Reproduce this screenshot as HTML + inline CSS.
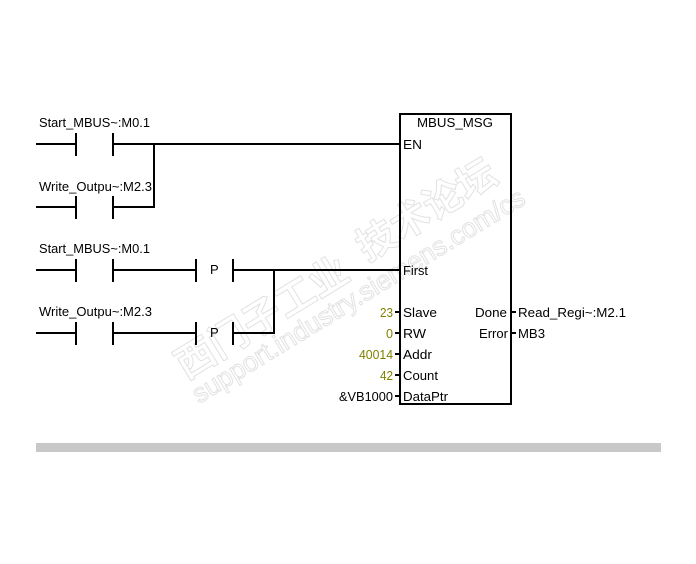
<!DOCTYPE html>
<html>
<head>
<meta charset="utf-8">
<style>
html,body{margin:0;padding:0;background:#fff;width:696px;height:564px;overflow:hidden}
svg{display:block}
text{font-family:"Liberation Sans",Arial,sans-serif;font-size:13px;fill:#000}
.o{fill:#808000}
.w{font-family:"Noto Sans CJK SC","Liberation Sans",sans-serif;font-weight:700;fill:#fff;stroke:#e2e2e2;stroke-width:1}
.s{font-family:"Liberation Sans",sans-serif;font-weight:400;fill:#fff;stroke:#e2e2e2;stroke-width:1}
</style>
</head>
<body>
<svg width="696" height="564" viewBox="0 0 696 564" xmlns="http://www.w3.org/2000/svg">
<rect width="696" height="564" fill="#fff"/>

<!-- watermark -->
<text class="w" transform="translate(186,380) rotate(-31.5)" style="font-size:39px">西门子工业</text>
<text class="w" transform="translate(367,262) rotate(-31.5)" style="font-size:39px">技术论坛</text>
<text class="s" transform="translate(199,404) rotate(-31.5)" style="font-size:27px" textLength="385" lengthAdjust="spacingAndGlyphs">support.industry.siemens.com/cs</text>

<!-- wires and contacts -->
<g fill="#000" shape-rendering="crispEdges">
  <!-- rung 1 -->
  <rect x="36" y="143" width="40" height="2"/>
  <rect x="75" y="133" width="2" height="23"/>
  <rect x="112" y="133" width="2" height="23"/>
  <rect x="113" y="143" width="287" height="2"/>
  <!-- rung 2 -->
  <rect x="36" y="206" width="40" height="2"/>
  <rect x="75" y="196" width="2" height="23"/>
  <rect x="112" y="196" width="2" height="23"/>
  <rect x="113" y="206" width="42" height="2"/>
  <rect x="153" y="143" width="2" height="65"/>
  <!-- rung 3 -->
  <rect x="36" y="269" width="40" height="2"/>
  <rect x="75" y="259" width="2" height="23"/>
  <rect x="112" y="259" width="2" height="23"/>
  <rect x="113" y="269" width="83" height="2"/>
  <rect x="195" y="259" width="2" height="23"/>
  <rect x="232" y="259" width="2" height="23"/>
  <rect x="233" y="269" width="167" height="2"/>
  <!-- rung 4 -->
  <rect x="36" y="332" width="40" height="2"/>
  <rect x="75" y="322" width="2" height="23"/>
  <rect x="112" y="322" width="2" height="23"/>
  <rect x="113" y="332" width="83" height="2"/>
  <rect x="195" y="322" width="2" height="23"/>
  <rect x="232" y="322" width="2" height="23"/>
  <rect x="233" y="332" width="42" height="2"/>
  <rect x="273" y="269" width="2" height="65"/>
  <!-- box -->
  <rect x="399" y="113" width="113" height="2"/>
  <rect x="399" y="403" width="113" height="2"/>
  <rect x="399" y="113" width="2" height="292"/>
  <rect x="510" y="113" width="2" height="292"/>
  <!-- stubs -->
  <rect x="395" y="311" width="5" height="2"/>
  <rect x="395" y="332" width="5" height="2"/>
  <rect x="395" y="353" width="5" height="2"/>
  <rect x="395" y="374" width="5" height="2"/>
  <rect x="395" y="395" width="5" height="2"/>
  <rect x="511" y="311" width="5" height="2"/>
  <rect x="511" y="332" width="5" height="2"/>
</g>

<!-- gray bar -->
<rect x="36" y="443" width="625" height="9" fill="#c8c8c8" shape-rendering="crispEdges"/>

<!-- labels -->
<text x="39" y="127" textLength="111" lengthAdjust="spacingAndGlyphs">Start_MBUS~:M0.1</text>
<text x="39" y="191" textLength="113" lengthAdjust="spacingAndGlyphs">Write_Outpu~:M2.3</text>
<text x="39" y="253" textLength="111" lengthAdjust="spacingAndGlyphs">Start_MBUS~:M0.1</text>
<text x="39" y="316" textLength="113" lengthAdjust="spacingAndGlyphs">Write_Outpu~:M2.3</text>
<text x="210" y="274">P</text>
<text x="210" y="337">P</text>

<text x="417" y="127" textLength="76" lengthAdjust="spacingAndGlyphs">MBUS_MSG</text>
<text x="403" y="149" textLength="19" lengthAdjust="spacingAndGlyphs">EN</text>
<text x="403" y="275" textLength="25" lengthAdjust="spacingAndGlyphs">First</text>
<text x="403" y="317" textLength="34" lengthAdjust="spacingAndGlyphs">Slave</text>
<text x="403" y="338" textLength="23" lengthAdjust="spacingAndGlyphs">RW</text>
<text x="403" y="359" textLength="29" lengthAdjust="spacingAndGlyphs">Addr</text>
<text x="403" y="380" textLength="35" lengthAdjust="spacingAndGlyphs">Count</text>
<text x="403" y="401" textLength="45" lengthAdjust="spacingAndGlyphs">DataPtr</text>

<text class="o" x="380" y="317" textLength="13" lengthAdjust="spacingAndGlyphs">23</text>
<text class="o" x="386" y="338" textLength="7" lengthAdjust="spacingAndGlyphs">0</text>
<text class="o" x="359" y="359" textLength="34" lengthAdjust="spacingAndGlyphs">40014</text>
<text class="o" x="380" y="380" textLength="13" lengthAdjust="spacingAndGlyphs">42</text>
<text x="339" y="401" textLength="54" lengthAdjust="spacingAndGlyphs">&amp;VB1000</text>

<text x="475" y="317" textLength="32" lengthAdjust="spacingAndGlyphs">Done</text>
<text x="479" y="338" textLength="29" lengthAdjust="spacingAndGlyphs">Error</text>
<text x="518" y="317" textLength="108" lengthAdjust="spacingAndGlyphs">Read_Regi~:M2.1</text>
<text x="518" y="338" textLength="27" lengthAdjust="spacingAndGlyphs">MB3</text>
</svg>
</body>
</html>
